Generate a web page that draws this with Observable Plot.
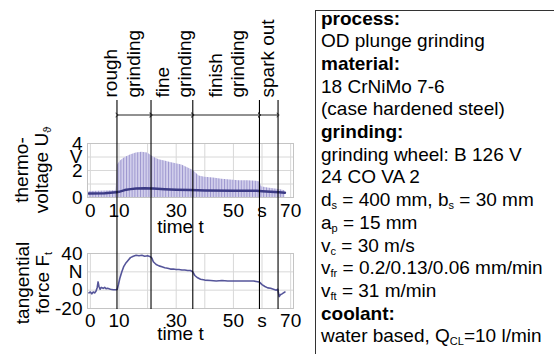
<!DOCTYPE html>
<html><head><meta charset="utf-8">
<script src="https://cdn.jsdelivr.net/npm/d3@7"></script>
<script src="https://cdn.jsdelivr.net/npm/@observablehq/plot@0.6"></script>
<style>
body{margin:0;background:#fff;}
#fig{position:relative;width:554px;height:354px;overflow:hidden;font-family:"Liberation Sans",Arial,sans-serif;color:#000;background:#fff;}
#fig > svg{position:absolute;left:0;top:0;}
.ytitle{position:absolute;font-size:19px;line-height:20px;text-align:center;white-space:nowrap;transform:translate(-50%,-50%) rotate(-90deg);}
.info{position:absolute;left:315px;top:10px;width:239px;height:344px;border-left:1.5px solid #333;border-top:1.5px solid #333;box-sizing:border-box;padding-left:5px;font-size:19px;line-height:22.7px;white-space:nowrap;}
.info .inner{position:relative;top:-3.5px;}
sub{font-size:11px;vertical-align:-3px;line-height:0;}
</style></head>
<body>
<svg width="0" height="0" style="position:absolute">
<defs><pattern id="hatch" patternUnits="userSpaceOnUse" width="2.8" height="10">
<rect width="2.8" height="10" fill="#d3d0ec"/>
<rect width="1" height="10" fill="#9d97cf"/>
</pattern></defs></svg>
<div id="fig"></div>
<script>
// ---- data ----
const boundaries = [9.3, 21.2, 35.8, 59.1, 65.6];
const phaseLabels = ["rough\ngrinding", "fine\ngrinding", "finish\ngrinding", "spark out"];
const phaseLabelX = [10.9, 28.8, 47.3, 61.5];

const xTicks = [0, 10, 30, 50, 60, 70];
const xTickLabels = ["0", "10", "30", "50", "s", "70"];
const xGrid = [0, 10, 20, 30, 40, 50, 60, 70];

const uTicks = [0, 2, 3, 4];
const uTickLabels = ["0", "2", "V", "4"];
const uGrid = [0, 1, 2, 3, 4];

const fTicks = [-20, 0, 20, 40];
const fTickLabels = ["-20", "0", "N", "40"];
const fGrid = [-20, 0, 20, 40];

// thermo-voltage: upper envelope of raw signal and mean
const envT = [-0.5, 9.0, 9.5, 10.5, 12, 14, 16, 18, 20, 22, 24, 26, 28, 30, 32, 34, 36, 38, 40, 43, 46, 49, 52, 55, 58, 59.3, 59.8, 62, 64, 66, 68];
const envU = [0.45, 0.5, 2.4, 2.7, 2.95, 3.15, 3.3, 3.35, 3.3, 3.0, 2.8, 2.7, 2.6, 2.5, 2.4, 2.2, 2.0, 1.6, 1.5, 1.45, 1.35, 1.3, 1.25, 1.25, 1.2, 1.15, 0.8, 0.7, 0.65, 0.6, 0.5];
const meanT = [-0.5, 5, 9, 10, 12, 14, 16, 19, 22, 26, 30, 35, 40, 50, 58, 60, 63, 66, 68];
const meanU = [0.3, 0.32, 0.38, 0.42, 0.55, 0.62, 0.66, 0.68, 0.66, 0.62, 0.58, 0.55, 0.52, 0.5, 0.5, 0.47, 0.42, 0.38, 0.35];

// tangential force
const forceT = [-0.5, 0, 0.5, 1, 1.5, 2, 2.4, 2.7, 3.0, 3.4, 3.8, 4.5, 5, 5.5, 6, 7, 8, 9, 9.4, 9.8, 10.3, 11, 11.7, 12.5, 13.3, 14, 15, 16, 17, 18, 19, 20, 21, 21.5, 22, 23, 24, 25, 26, 27, 28, 29, 30, 31, 32, 33, 34, 35, 35.8, 36.5, 37.5, 38.5, 40, 42, 44, 46, 48, 50, 52, 54, 56, 57, 58, 59, 60, 61, 62, 63, 64, 65, 65.5, 66, 66.4, 67, 67.5, 68];
const forceF = [-3, -2, -4, -2, -3, -1, 3, 9, 4, 1, 3, 2, 3, 1.5, 2, 1, 0.5, 0.5, 1, 6, 13, 20, 26, 30, 33, 35.5, 37, 38, 37.5, 38, 37, 37.5, 36.5, 35, 31, 28, 26.5, 25.5, 24.5, 24, 23, 23, 22.5, 22.5, 22, 22, 21.5, 21.5, 20, 16, 13.5, 12, 11, 10.5, 10, 10.5, 10, 10, 10, 10, 10, 10, 9.5, 9, 6, 4, 2.5, 2, 1, 0, 1, -7, -5, -4, -3, -2];

// info panel lines
const infoLines = [
  "<b>process:</b>", "OD plunge grinding", "<b>material:</b>", "18 CrNiMo 7-6",
  "(case hardened steel)", "<b>grinding:</b>", "grinding wheel: B 126 V", "24 CO VA 2",
  "d<sub>s</sub> = 400 mm, b<sub>s</sub> = 30 mm", "a<sub>p</sub> = 15 mm", "v<sub>c</sub> = 30 m/s",
  "v<sub>fr</sub> = 0.2/0.13/0.06 mm/min", "v<sub>ft</sub> = 31 m/min", "<b>coolant:</b>",
  "water based, Q<sub>CL</sub>=10 l/min"
];
const topTitle = ["thermo-", "voltage U<sub>&#977;</sub>"];
const bottomTitle = ["tangential", "force F<sub>t</sub>"];

// ---- build ----
const env = envT.map((t, i) => ({t, u: envU[i]}));
const mean = meanT.map((t, i) => ({t, u: meanU[i]}));
const force = forceT.map((t, i) => ({t, f: forceF[i]}));
const segments = boundaries.slice(0, -1).map((a, i) => ({a, b: boundaries[i + 1]}));
const phases = phaseLabels.map((label, i) => ({label, x: phaseLabelX[i]}));
const xl = new Map(xTicks.map((d, i) => [d, xTickLabels[i]]));
const ul = new Map(uTicks.map((d, i) => [d, uTickLabels[i]]));
const fl = new Map(fTicks.map((d, i) => [d, fTickLabels[i]]));

const common = {
  width: 300, height: 354, marginLeft: 87, marginRight: 7,
  style: {fontFamily: "Liberation Sans, Arial, sans-serif", fontSize: "19px", background: "transparent", overflow: "visible", color: "#000"}
};
const xDomain = [-1, 71];
const gridColor = "#d8d8d8";

const topChart = Plot.plot({
  ...common, marginTop: 143, marginBottom: 157,
  x: {domain: xDomain, ticks: xTicks, tickFormat: d => xl.get(d), tickSize: 0, tickPadding: 6, label: null},
  y: {domain: [0, 4], ticks: uTicks, tickFormat: d => ul.get(d), tickSize: 0, tickPadding: 5, label: null},
  marks: [
    Plot.ruleX(xGrid, {stroke: gridColor}),
    Plot.ruleY(uGrid, {stroke: gridColor}),
    Plot.areaY(env, {x: "t", y1: 0, y2: "u", fill: "url(#hatch)"}),
    Plot.line(mean, {x: "t", y: "u", stroke: "#3b3a85", strokeWidth: 2.5}),
    Plot.frame({stroke: "#c4c4c4"}),
    Plot.text(["time t"], {text: d => d, frameAnchor: "bottom", dy: 35, dx: -10})
  ]
});

const bottomChart = Plot.plot({
  ...common, marginTop: 253, marginBottom: 46,
  x: {domain: xDomain, ticks: xTicks, tickFormat: d => xl.get(d), tickSize: 0, tickPadding: 5, label: null},
  y: {domain: [-20, 40], ticks: fTicks, tickFormat: d => fl.get(d), tickSize: 0, tickPadding: 5, label: null},
  marks: [
    Plot.ruleX(xGrid, {stroke: gridColor}),
    Plot.ruleY(fGrid, {stroke: gridColor}),
    Plot.line(force, {x: "t", y: "f", stroke: "#55559a", strokeWidth: 1.6}),
    Plot.frame({stroke: "#c4c4c4"}),
    Plot.text(["time t"], {text: d => d, frameAnchor: "bottom", dy: 31.5, dx: -10})
  ]
});

const overlay = Plot.plot({
  ...common, marginTop: 100, marginBottom: 45,
  x: {domain: xDomain, axis: null},
  y: {domain: [0, 1], axis: null},
  marks: [
    Plot.ruleX(boundaries, {stroke: "#000", strokeWidth: 1.1}),
    Plot.link(segments, {x1: "a", x2: "b", y1: 1, y2: 1, dy: 14.5, stroke: "#222", strokeWidth: 1, markerStart: "arrow", markerEnd: "arrow"}),
    Plot.text(phases, {x: "x", y: 1, text: "label", rotate: -90, textAnchor: "start", lineAnchor: "middle", lineHeight: 1.2, dy: -3})
  ]
});

const fig = document.getElementById("fig");
fig.append(topChart, bottomChart, overlay);

function addTitle(lines, cx, cy) {
  const d = document.createElement("div");
  d.className = "ytitle";
  d.style.left = cx + "px";
  d.style.top = cy + "px";
  d.innerHTML = lines.join("<br>");
  fig.append(d);
}
addTitle(topTitle, 32, 170);
addTitle(bottomTitle, 33, 283);

const info = document.createElement("div");
info.className = "info";
info.innerHTML = '<div class="inner">' + infoLines.join("<br>") + "</div>";
fig.append(info);
</script>
</body></html>
